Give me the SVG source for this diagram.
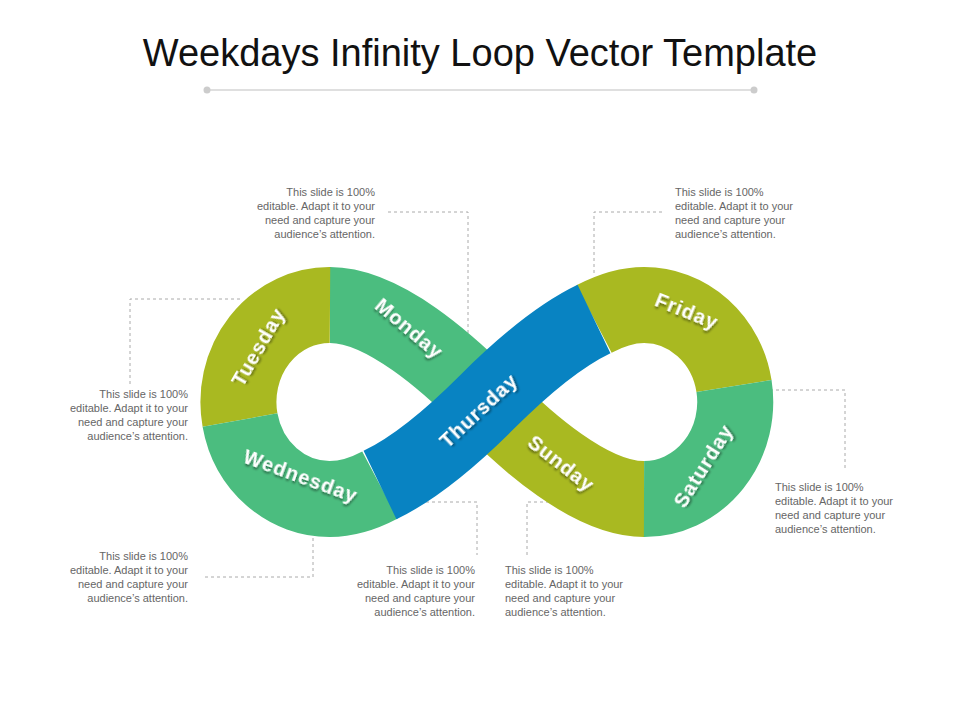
<svg xmlns="http://www.w3.org/2000/svg" width="960" height="720" viewBox="0 0 960 720">
<defs>
<style>
.g{fill:none;stroke:#4bbd7f;stroke-width:76}
.y{fill:none;stroke:#a9b921;stroke-width:76}
.b{fill:none;stroke:#0883c2;stroke-width:76}
.lbl{font-family:"Liberation Sans",Arial,sans-serif;font-weight:bold;font-size:20px;fill:#fff;text-anchor:middle;dominant-baseline:middle;letter-spacing:1px;filter:url(#sh)}
.note{font-family:"Liberation Sans",Arial,sans-serif;font-size:11px;fill:#666}
.r{text-anchor:end}
.d{fill:none;stroke:#aaa;stroke-width:1;stroke-dasharray:3 3}
</style>
<filter id="sh" x="-20%" y="-50%" width="140%" height="200%"><feDropShadow dx="1" dy="2" stdDeviation="1" flood-color="#000" flood-opacity="0.45"/></filter>
</defs>
<rect width="960" height="720" fill="#fff"/>
<text x="480" y="66" font-family="Liberation Sans,Arial,sans-serif" font-size="38" fill="#111" text-anchor="middle">Weekdays Infinity Loop Vector Template</text>
<line x1="207" y1="90" x2="754" y2="90" stroke="#d4d4d4" stroke-width="1.5"/>
<circle cx="207" cy="90" r="3.5" fill="#ccc"/><circle cx="754" cy="90" r="3.5" fill="#ccc"/>
<g id="connectors">
<path class="d" d="M388,212H468V340"/>
<path class="d" d="M662,212H594V275"/>
<path class="d" d="M240,299H130V385"/>
<path class="d" d="M770,390H845V470"/>
<path class="d" d="M205,577H313V530"/>
<path class="d" d="M420,502H477V555"/>
<path class="d" d="M527,555V502H575"/>
</g>
<g id="monday"><path class="g" d="M330,305C384,305 449,364 487,402"/></g>
<g id="sunday"><path class="y" d="M487,402C525,440 590,499 644,499"/></g>
<g id="tuesday"><path class="y" d="M330,305A91 97 0 0 0 240,420"/></g>
<g id="wednesday"><path class="g" d="M240,420A91 97 0 0 0 330,499C346,499 363,494 380,485"/></g>
<g id="friday"><path class="y" d="M594,319C610.6,310.3 627.8,305 644,305A91 97 0 0 1 734,386"/></g>
<g id="saturday"><path class="g" d="M734,386A91 97 0 0 1 644,499"/></g>
<g id="thursday"><path class="b" d="M380,485C420.6,465.5 460.4,428.6 487,402C513.6,375.4 553.4,338.5 594,319"/></g>
<g id="labels">
<text class="lbl" transform="translate(260,348) rotate(-60)">Tuesday</text>
<text class="lbl" transform="translate(408,330) rotate(40)">Monday</text>
<text class="lbl" transform="translate(300,478) rotate(20)">Wednesday</text>
<text class="lbl" transform="translate(480,412) rotate(-43)">Thursday</text>
<text class="lbl" transform="translate(560,465) rotate(38)">Sunday</text>
<text class="lbl" transform="translate(686,313) rotate(22)">Friday</text>
<text class="lbl" transform="translate(705,467) rotate(-58)">Saturday</text>
</g>
<g id="notes">
<text class="note r" y="196"><tspan x="375">This slide is 100%</tspan><tspan x="375" dy="14">editable. Adapt it to your</tspan><tspan x="375" dy="14">need and capture your</tspan><tspan x="375" dy="14">audience’s attention.</tspan></text>
<text class="note" y="196"><tspan x="675">This slide is 100%</tspan><tspan x="675" dy="14">editable. Adapt it to your</tspan><tspan x="675" dy="14">need and capture your</tspan><tspan x="675" dy="14">audience’s attention.</tspan></text>
<text class="note r" y="398"><tspan x="188">This slide is 100%</tspan><tspan x="188" dy="14">editable. Adapt it to your</tspan><tspan x="188" dy="14">need and capture your</tspan><tspan x="188" dy="14">audience’s attention.</tspan></text>
<text class="note" y="491"><tspan x="775">This slide is 100%</tspan><tspan x="775" dy="14">editable. Adapt it to your</tspan><tspan x="775" dy="14">need and capture your</tspan><tspan x="775" dy="14">audience’s attention.</tspan></text>
<text class="note r" y="560"><tspan x="188">This slide is 100%</tspan><tspan x="188" dy="14">editable. Adapt it to your</tspan><tspan x="188" dy="14">need and capture your</tspan><tspan x="188" dy="14">audience’s attention.</tspan></text>
<text class="note r" y="574"><tspan x="475">This slide is 100%</tspan><tspan x="475" dy="14">editable. Adapt it to your</tspan><tspan x="475" dy="14">need and capture your</tspan><tspan x="475" dy="14">audience’s attention.</tspan></text>
<text class="note" y="574"><tspan x="505">This slide is 100%</tspan><tspan x="505" dy="14">editable. Adapt it to your</tspan><tspan x="505" dy="14">need and capture your</tspan><tspan x="505" dy="14">audience’s attention.</tspan></text>
</g>
</svg>
